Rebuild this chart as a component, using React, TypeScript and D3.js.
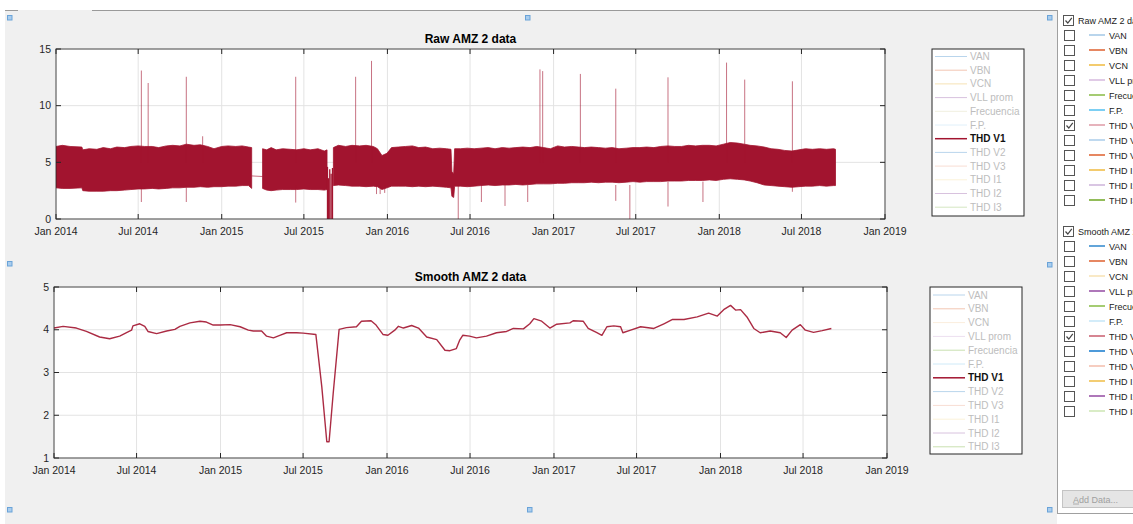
import React from 'react';
import * as d3 from 'd3';

const W = 1133;
const H = 524;

const seriesNames = ['VAN', 'VBN', 'VCN', 'VLL prom', 'Frecuencia', 'F.P.', 'THD V1', 'THD V2', 'THD V3', 'THD I1', 'THD I2', 'THD I3'];
const xTickDates = ['2014-01-01', '2014-07-01', '2015-01-01', '2015-07-01', '2016-01-01', '2016-07-01', '2017-01-01', '2017-07-01', '2018-01-01', '2018-07-01', '2019-01-01'];
const rawYTicks = [0, 5, 10, 15];
const smoothYTicks = [1, 2, 3, 4, 5];

// Raw THD V1: upper / lower envelope of the dense band (null = no data)
const rawEnvDates = [
  '2014-01-01', '2014-01-15', '2014-02-01', '2014-02-27', '2014-03-01', '2014-03-15', '2014-04-01', '2014-04-15', '2014-05-01', '2014-05-15',
  '2014-06-01', '2014-06-15', '2014-07-01', '2014-07-15', '2014-08-01', '2014-08-15', '2014-09-01', '2014-09-15', '2014-10-01', '2014-10-15',
  '2014-11-01', '2014-11-15', '2014-12-01', '2014-12-15', '2015-01-01', '2015-01-15', '2015-02-01', '2015-02-15', '2015-03-01', '2015-03-08',
  '2015-03-20',
  '2015-04-01', '2015-04-10', '2015-04-20', '2015-05-01', '2015-05-15', '2015-06-01', '2015-06-15', '2015-07-01', '2015-07-15', '2015-08-01',
  '2015-08-15', '2015-08-21',
  '2015-08-28',
  '2015-09-04', '2015-09-15', '2015-10-01', '2015-10-15', '2015-11-01', '2015-11-15', '2015-12-01', '2015-12-10', '2015-12-20', '2015-12-31',
  '2016-01-10', '2016-01-25', '2016-02-10', '2016-02-25', '2016-03-10', '2016-03-25', '2016-04-10', '2016-04-25', '2016-05-10', '2016-05-20',
  '2016-05-22', '2016-05-26', '2016-05-28', '2016-06-10', '2016-06-25', '2016-07-10', '2016-07-25', '2016-08-10', '2016-08-25', '2016-09-10',
  '2016-09-25', '2016-10-10', '2016-10-25', '2016-11-10', '2016-11-25', '2016-12-10', '2016-12-25', '2017-01-10', '2017-01-25', '2017-02-10',
  '2017-02-25', '2017-03-10', '2017-03-25', '2017-04-10', '2017-04-25', '2017-05-10', '2017-05-25', '2017-06-10', '2017-06-25', '2017-07-10',
  '2017-07-25', '2017-08-10', '2017-08-25', '2017-09-10', '2017-09-25', '2017-10-10', '2017-10-25', '2017-11-10', '2017-11-25', '2017-12-10',
  '2017-12-25', '2018-01-10', '2018-01-25', '2018-02-10', '2018-02-25', '2018-03-10', '2018-03-25', '2018-04-10', '2018-04-25', '2018-05-10',
  '2018-05-25', '2018-06-10', '2018-06-25', '2018-07-10', '2018-07-25', '2018-08-10', '2018-08-25', '2018-09-10', '2018-09-14',
];
const rawHigh = [
  6.4, 6.5, 6.4, 6.35, 6.1, 6.2, 6.15, 6.3, 6.2, 6.35,
  6.3, 6.4, 6.45, 6.4, 6.4, 6.3, 6.45, 6.5, 6.45, 6.6,
  6.5, 6.55, 6.4, 6.2, 6.4, 6.45, 6.4, 6.45, 6.35, 6.3,
  null,
  6.2, 6.1, 6.3, 6.1, 6.2, 6.15, 6.1, 6.2, 6.1, 6.2,
  6.0, 6.1,
  null,
  6.3, 6.5, 6.4, 6.5, 6.45, 6.5, 6.4, 6.2, 5.6, 5.8,
  6.3, 6.35, 6.4, 6.45, 6.3, 6.35, 6.2, 6.25, 6.2, 6.15,
  4.2, 4.0, 6.2, 6.2, 6.25, 6.2, 6.25, 6.3, 6.2, 6.3,
  6.25, 6.3, 6.35, 6.3, 6.4, 6.3, 6.2, 6.45, 6.35, 6.4,
  6.35, 6.3, 6.35, 6.3, 6.25, 6.3, 6.2, 6.25, 6.3, 6.3,
  6.35, 6.3, 6.4, 6.45, 6.4, 6.4, 6.5, 6.45, 6.5, 6.5,
  6.45, 6.6, 6.75, 6.7, 6.6, 6.5, 6.45, 6.35, 6.2, 6.15,
  6.05, 6.0, 6.1, 6.2, 6.15, 6.2, 6.15, 6.2, 6.15,
];
const rawLow = [
  2.75, 2.7, 2.7, 2.75, 2.5, 2.45, 2.45, 2.45, 2.5, 2.5,
  2.55, 2.6, 2.65, 2.65, 2.7, 2.65, 2.7, 2.75, 2.75, 2.8,
  2.8, 2.85, 2.8, 2.85, 2.85, 2.9, 2.9, 2.95, 2.95, 2.7,
  null,
  2.7, 2.55, 2.5, 2.55, 2.6, 2.6, 2.6, 2.65, 2.6, 2.6,
  2.55, 2.6,
  null,
  2.95, 3.0, 2.95, 2.9, 2.9, 2.85, 2.9, 2.85, 2.6, 2.75,
  2.9, 2.9, 2.9, 2.85, 2.9, 2.85, 2.9, 2.85, 2.8, 2.75,
  2.0, 1.9, 2.9, 2.9, 2.85, 2.9, 2.95, 3.0, 2.95, 3.0,
  3.0, 3.05, 3.0, 3.05, 3.1, 3.1, 3.1, 3.15, 3.15, 3.2,
  3.2, 3.2, 3.25, 3.2, 3.25, 3.25, 3.2, 3.25, 3.3, 3.25,
  3.3, 3.3, 3.3, 3.35, 3.35, 3.35, 3.4, 3.4, 3.4, 3.45,
  3.4, 3.5, 3.55, 3.5, 3.45, 3.35, 3.2, 3.0, 2.95, 2.9,
  2.85, 2.8, 2.85, 2.9, 2.9, 2.95, 2.9, 2.95, 2.95,
];

// isolated excursions of the raw series (from -> to)
const spikeDates = [
  '2014-07-08', '2014-07-08', '2014-07-23', '2014-10-15', '2014-10-15', '2014-11-20', '2015-06-13', '2015-06-13', '2015-10-23', '2015-11-27',
  '2015-12-08', '2015-12-16', '2015-12-26', '2016-06-05', '2016-07-26', '2016-09-16', '2016-11-05', '2016-12-02', '2016-12-08', '2017-03-01',
  '2017-05-18', '2017-05-18', '2017-06-18', '2017-09-10', '2017-09-10', '2017-11-26', '2018-01-17', '2018-02-26', '2018-06-11', '2018-06-11',
];
const spikeFrom = [
  5, 3, 5, 5, 3, 5, 5, 3, 5, 5,
  3, 3, 3, 3, 3, 3, 3, 5, 5, 5,
  5, 3, 3, 5, 3.3, 3.3, 5, 5, 5, 3,
];
const spikeTo = [
  13.1, 1.5, 12.0, 12.55, 1.5, 7.3, 12.55, 1.45, 12.55, 13.95,
  2.2, 2.2, 2.3, 0, 1.5, 1.15, 1.5, 13.2, 13.05, 12.8,
  11.5, 1.6, 0, 12.5, 1.1, 1.5, 13.8, 12.3, 12.15, 2.4,
];

// outage in Aug 2015: readings dropping to zero
const outageDates = ['2015-08-22', '2015-08-24', '2015-08-27', '2015-08-30', '2015-09-02'];
const outageTop = [4.6, 3.6, 4.4, 4.0, 4.5];

// straight connector drawn across the Mar 2015 data gap
const gapLineDates = ['2015-03-08', '2015-04-01'];
const gapLineValues = [3.8, 3.75];

// Smoothed THD V1
const smoothDates = [
  '2014-01-01', '2014-01-21', '2014-02-19', '2014-03-13', '2014-04-11', '2014-05-03', '2014-05-25', '2014-06-09', '2014-06-20', '2014-06-23',
  '2014-07-08', '2014-07-19', '2014-07-26', '2014-08-14', '2014-09-05', '2014-09-23', '2014-10-04', '2014-10-26', '2014-11-17', '2014-12-01',
  '2014-12-16', '2014-12-31', '2015-01-22', '2015-02-13', '2015-03-03', '2015-03-14', '2015-04-01', '2015-04-12', '2015-04-27', '2015-05-11',
  '2015-05-26', '2015-06-17', '2015-07-01', '2015-07-29', '2015-08-11', '2015-08-22', '2015-08-27', '2015-09-05', '2015-09-18', '2015-10-04',
  '2015-10-26', '2015-11-06', '2015-11-27', '2015-12-08', '2015-12-23', '2016-01-03', '2016-01-18', '2016-01-26', '2016-02-06', '2016-02-24',
  '2016-03-10', '2016-03-28', '2016-04-19', '2016-05-07', '2016-05-18', '2016-06-01', '2016-06-08', '2016-06-15', '2016-06-30', '2016-07-15',
  '2016-08-06', '2016-08-28', '2016-09-19', '2016-10-04', '2016-10-26', '2016-11-09', '2016-11-18', '2016-12-05', '2016-12-23', '2017-01-07',
  '2017-02-05', '2017-02-12', '2017-03-06', '2017-03-17', '2017-04-05', '2017-04-16', '2017-04-27', '2017-05-12', '2017-05-27', '2017-06-01',
  '2017-06-18', '2017-07-10', '2017-08-08', '2017-08-30', '2017-09-18', '2017-10-13', '2017-11-11', '2017-12-06', '2017-12-25', '2018-01-08',
  '2018-01-23', '2018-02-03', '2018-02-14', '2018-02-28', '2018-03-15', '2018-03-29', '2018-04-20', '2018-05-12', '2018-05-25', '2018-06-07',
  '2018-06-25', '2018-07-06', '2018-07-24', '2018-08-12', '2018-09-01',
];
const smoothValues = [
  4.04, 4.08, 4.04, 3.96, 3.83, 3.79, 3.85, 3.93, 3.99, 4.09,
  4.14, 4.08, 3.96, 3.91, 3.97, 4.01, 4.08, 4.16, 4.2, 4.18,
  4.11, 4.11, 4.12, 4.07, 3.99, 3.97, 3.97, 3.85, 3.81, 3.87,
  3.93, 3.93, 3.92, 3.89, 2.67, 1.38, 1.38, 2.51, 4.01, 4.05,
  4.07, 4.2, 4.21, 4.11, 3.89, 3.87, 3.99, 4.08, 4.04, 4.1,
  4.04, 3.83, 3.77, 3.52, 3.51, 3.56, 3.75, 3.87, 3.85, 3.81,
  3.85, 3.93, 3.96, 4.03, 4.02, 4.14, 4.26, 4.2, 4.04, 4.13,
  4.16, 4.21, 4.2, 4.03, 3.93, 3.87, 4.07, 4.09, 4.07, 3.93,
  3.99, 4.07, 4.03, 4.14, 4.24, 4.24, 4.3, 4.39, 4.32, 4.47,
  4.57, 4.46, 4.47, 4.3, 4.03, 3.93, 3.97, 3.93, 3.82, 3.99,
  4.12, 3.99, 3.94, 3.98, 4.03,
];

// legend swatch colours (faded for hidden series)
const rawLegendColors = ['#b9d5ec', '#f2c6b3', '#f6e2b4', '#d8c2de', '#f1efdf', '#e0f0fa', '#A2142F', '#b9d5ec', '#f8ddd3', '#fbf2d9', '#d8c2de', '#d4e6c1'];
const smoothLegendColors = ['#b9d5ec', '#f2c6b3', '#fbeedd', '#ecdff0', '#c9e0b0', '#cfeaf8', '#A2142F', '#b9d5ec', '#f8ddd3', '#fbf2d9', '#d8c2de', '#c9e0b0'];
const rawPanelColors = ['#a8cbe8', '#e0693a', '#f0be4a', '#d9bde0', '#8fbf50', '#5cc4f0', '#e0a0ac', '#b0d0ec', '#e0693a', '#f0be4a', '#d0b8dc', '#77ac30'];
const smoothPanelColors = ['#3d8fd0', '#e0693a', '#f8e4b8', '#9a55a8', '#8fbf50', '#c8e8f8', '#cc6677', '#2080d0', '#f4c0b0', '#f0c050', '#9a55a8', '#d0e8b8'];

const parse = d3.timeParse('%Y-%m-%d');
const fmt = d3.timeFormat('%b %Y');
const RED = '#A2142F';
const AX = '#262626';
const FONT = 'Liberation Sans, Arial, Helvetica, sans-serif';
const UI_FONT = 'Liberation Sans, Arial, sans-serif';

type Box = { l: number; r: number; t: number; b: number };

function Axes({ box, x, y, yTicks, title }: { box: Box; x: d3.ScaleTime<number, number>; y: d3.ScaleLinear<number, number>; yTicks: number[]; title: string }) {
  const ticks = xTickDates.map((d) => parse(d) as Date);
  return (
    <g>
      <rect x={box.l} y={box.t} width={box.r - box.l} height={box.b - box.t} fill="#ffffff" />
      {ticks.map((d, i) => (
        <line key={'gx' + i} x1={x(d)} x2={x(d)} y1={box.t} y2={box.b} stroke="#e3e3e3" strokeWidth={1} />
      ))}
      {yTicks.map((v, i) => (
        <line key={'gy' + i} x1={box.l} x2={box.r} y1={y(v)} y2={y(v)} stroke="#e3e3e3" strokeWidth={1} />
      ))}
      <text x={(box.l + box.r) / 2} y={box.t - 6} textAnchor="middle" fontFamily={FONT} fontSize={12} fontWeight="bold" fill="#000">
        {title}
      </text>
    </g>
  );
}

function AxesFrame({ box, x, y, yTicks }: { box: Box; x: d3.ScaleTime<number, number>; y: d3.ScaleLinear<number, number>; yTicks: number[] }) {
  const ticks = xTickDates.map((d) => parse(d) as Date);
  return (
    <g>
      <rect x={box.l} y={box.t} width={box.r - box.l} height={box.b - box.t} fill="none" stroke={AX} strokeWidth={1} strokeOpacity={0.8} />
      {ticks.map((d, i) => (
        <g key={'tx' + i}>
          <line x1={x(d)} x2={x(d)} y1={box.b} y2={box.b - 5} stroke={AX} />
          <line x1={x(d)} x2={x(d)} y1={box.t} y2={box.t + 5} stroke={AX} />
          <text x={x(d)} y={box.b + 16} textAnchor="middle" fontFamily={FONT} fontSize={10.5} fill={AX}>
            {fmt(d)}
          </text>
        </g>
      ))}
      {yTicks.map((v, i) => (
        <g key={'ty' + i}>
          <line x1={box.l} x2={box.l + 5} y1={y(v)} y2={y(v)} stroke={AX} />
          <line x1={box.r} x2={box.r - 5} y1={y(v)} y2={y(v)} stroke={AX} />
          <text x={box.l - 5} y={y(v) + 3.7} textAnchor="end" fontFamily={FONT} fontSize={10.5} fill={AX}>
            {v}
          </text>
        </g>
      ))}
    </g>
  );
}

function Legend({ x0, y0, w, h, first, step, colors }: { x0: number; y0: number; w: number; h: number; first: number; step: number; colors: string[] }) {
  return (
    <g>
      <rect x={x0} y={y0} width={w} height={h} fill="#ffffff" stroke={AX} strokeWidth={1} />
      {seriesNames.map((n, i) => {
        const yy = y0 + first + i * step;
        const active = i === 6;
        return (
          <g key={n}>
            <line x1={x0 + 3} x2={x0 + 35} y1={yy} y2={yy} stroke={colors[i]} strokeWidth={active ? 1.5 : 1} />
            <text x={x0 + 38} y={yy + 3.5} fontFamily={FONT} fontSize={10} fill={active ? '#111' : '#bdbdbd'} fontWeight={active ? 'bold' : 'normal'}>
              {n}
            </text>
          </g>
        );
      })}
    </g>
  );
}

function CheckBox({ x, y, checked }: { x: number; y: number; checked: boolean }) {
  return (
    <g>
      <rect x={x + 0.5} y={y + 0.5} width={10} height={10} fill="#fff" stroke="#555" strokeWidth={1} />
      {checked && <path d={`M${x + 2.5},${y + 5.5} L${x + 4.8},${y + 8} L${x + 8.8},${y + 2.8}`} fill="none" stroke="#444" strokeWidth={1.2} />}
    </g>
  );
}

function PanelGroup({ y0, header, colors }: { y0: number; header: string; colors: string[] }) {
  return (
    <g>
      <CheckBox x={1063} y={y0 - 5} checked={true} />
      <text x={1078} y={y0 + 3.5} fontFamily={UI_FONT} fontSize={9} fill="#222">
        {header}
      </text>
      {seriesNames.map((n, i) => {
        const yy = y0 + 15 * (i + 1);
        return (
          <g key={n}>
            <CheckBox x={1064} y={yy - 5} checked={i === 6} />
            <line x1={1089} x2={1105} y1={yy} y2={yy} stroke={colors[i]} strokeWidth={1.6} />
            <text x={1109} y={yy + 3.5} fontFamily={UI_FONT} fontSize={9} fill="#222">
              {n}
            </text>
          </g>
        );
      })}
    </g>
  );
}

function Handle({ x, y }: { x: number; y: number }) {
  return <rect x={x + 0.5} y={y + 0.5} width={4.5} height={4.5} fill="#a9cdee" stroke="#6aa3d8" strokeWidth={1} />;
}

export default function App() {
  const topBox: Box = { l: 56, r: 885, t: 49, b: 219 };
  const botBox: Box = { l: 54, r: 887, t: 287, b: 458 };
  const domain = [parse('2014-01-01') as Date, parse('2019-01-01') as Date];
  const xTop = d3.scaleTime().domain(domain).range([topBox.l, topBox.r]);
  const yTop = d3.scaleLinear().domain([0, 15]).range([topBox.b, topBox.t]);
  const xBot = d3.scaleTime().domain(domain).range([botBox.l, botBox.r]);
  const yBot = d3.scaleLinear().domain([1, 5]).range([botBox.b, botBox.t]);

  const env = rawEnvDates.map((d, i) => ({ d: parse(d) as Date, hi: rawHigh[i], lo: rawLow[i] }));
  const area = d3
    .area<{ d: Date; hi: number | null; lo: number | null }>()
    .defined((p) => p.hi !== null && p.lo !== null)
    .x((p) => xTop(p.d))
    .y0((p) => yTop(p.lo as number))
    .y1((p) => yTop(p.hi as number));
  const areaPath = area(env) || '';

  const gapLine = d3
    .line<number>()
    .x((_, i) => xTop(parse(gapLineDates[i]) as Date))
    .y((v) => yTop(v))(gapLineValues) || '';

  const smoothLine = d3
    .line<number>()
    .x((_, i) => xBot(parse(smoothDates[i]) as Date))
    .y((v) => yBot(v))
    .curve(d3.curveLinear)(smoothValues) || '';

  return (
    <svg width={W} height={H} style={{ position: 'absolute', left: 0, top: 0, display: 'block' }} xmlns="http://www.w3.org/2000/svg">
      <rect x={0} y={0} width={W} height={H} fill="#ffffff" />
      <rect x={5} y={10} width={1052} height={H - 10} fill="#f0f0f0" />
      <line x1={5} x2={18} y1={10.5} y2={10.5} stroke="#9a9a9a" />
      <line x1={92} x2={1057} y1={10.5} y2={10.5} stroke="#9a9a9a" />

      {/* Top axes */}
      <Axes box={topBox} x={xTop} y={yTop} yTicks={rawYTicks} title="Raw AMZ 2 data" />
      <g clipPath="url(#clipTop)">
        <path d={areaPath} fill={RED} stroke={RED} strokeWidth={0.8} />
        <path d={gapLine} fill="none" stroke={RED} strokeOpacity={0.6} strokeWidth={1} />
        {spikeDates.map((d, i) => {
          const xx = xTop(parse(d) as Date);
          return <line key={'sp' + i} x1={xx} x2={xx} y1={yTop(spikeFrom[i])} y2={yTop(spikeTo[i])} stroke={RED} strokeOpacity={0.6} strokeWidth={1} />;
        })}
        {outageDates.map((d, i) => {
          const xx = xTop(parse(d) as Date);
          return <line key={'ou' + i} x1={xx} x2={xx} y1={yTop(0)} y2={yTop(outageTop[i])} stroke={RED} strokeWidth={1.3} />;
        })}
      </g>
      <defs>
        <clipPath id="clipTop">
          <rect x={topBox.l} y={topBox.t} width={topBox.r - topBox.l} height={topBox.b - topBox.t} />
        </clipPath>
        <clipPath id="clipBot">
          <rect x={botBox.l} y={botBox.t} width={botBox.r - botBox.l} height={botBox.b - botBox.t} />
        </clipPath>
      </defs>
      <AxesFrame box={topBox} x={xTop} y={yTop} yTicks={rawYTicks} />
      <Legend x0={932} y0={49} w={92} h={167} first={7.5} step={13.7} colors={rawLegendColors} />

      {/* Bottom axes */}
      <Axes box={botBox} x={xBot} y={yBot} yTicks={smoothYTicks} title="Smooth AMZ 2 data" />
      <g clipPath="url(#clipBot)">
        <path d={smoothLine} fill="none" stroke={RED} strokeWidth={1.4} strokeOpacity={0.9} strokeLinejoin="round" />
      </g>
      <AxesFrame box={botBox} x={xBot} y={yBot} yTicks={smoothYTicks} />
      <Legend x0={930} y0={287} w={92} h={167} first={8} step={13.8} colors={smoothLegendColors} />

      {/* selection handles */}
      <Handle x={7} y={15} />
      <Handle x={525} y={15} />
      <Handle x={1047} y={15} />
      <Handle x={7} y={261} />
      <Handle x={1047} y={262} />
      <Handle x={7} y={507} />
      <Handle x={527} y={507} />
      <Handle x={1047} y={507} />

      {/* right side panel */}
      <rect x={1057} y={10} width={W - 1057} height={503} fill="#ffffff" />
      <line x1={1057.5} x2={1057.5} y1={10} y2={513} stroke="#a0a0a0" />
      <line x1={1057} x2={W} y1={513.5} y2={513.5} stroke="#a0a0a0" />
      <PanelGroup y0={20} header="Raw AMZ 2 data" colors={rawPanelColors} />
      <PanelGroup y0={231} header="Smooth AMZ 2 data" colors={smoothPanelColors} />
      <rect x={1062.5} y={490.5} width={75} height={17} fill="#e5e5e5" stroke="#c4c4c4" />
      <text x={1073} y={502.5} fontFamily={UI_FONT} fontSize={9} fill="#a0a0a0">
        Add Data...
      </text>
      <line x1={1073} x2={1079} y1={504} y2={504} stroke="#a0a0a0" strokeWidth={0.8} />
    </svg>
  );
}
